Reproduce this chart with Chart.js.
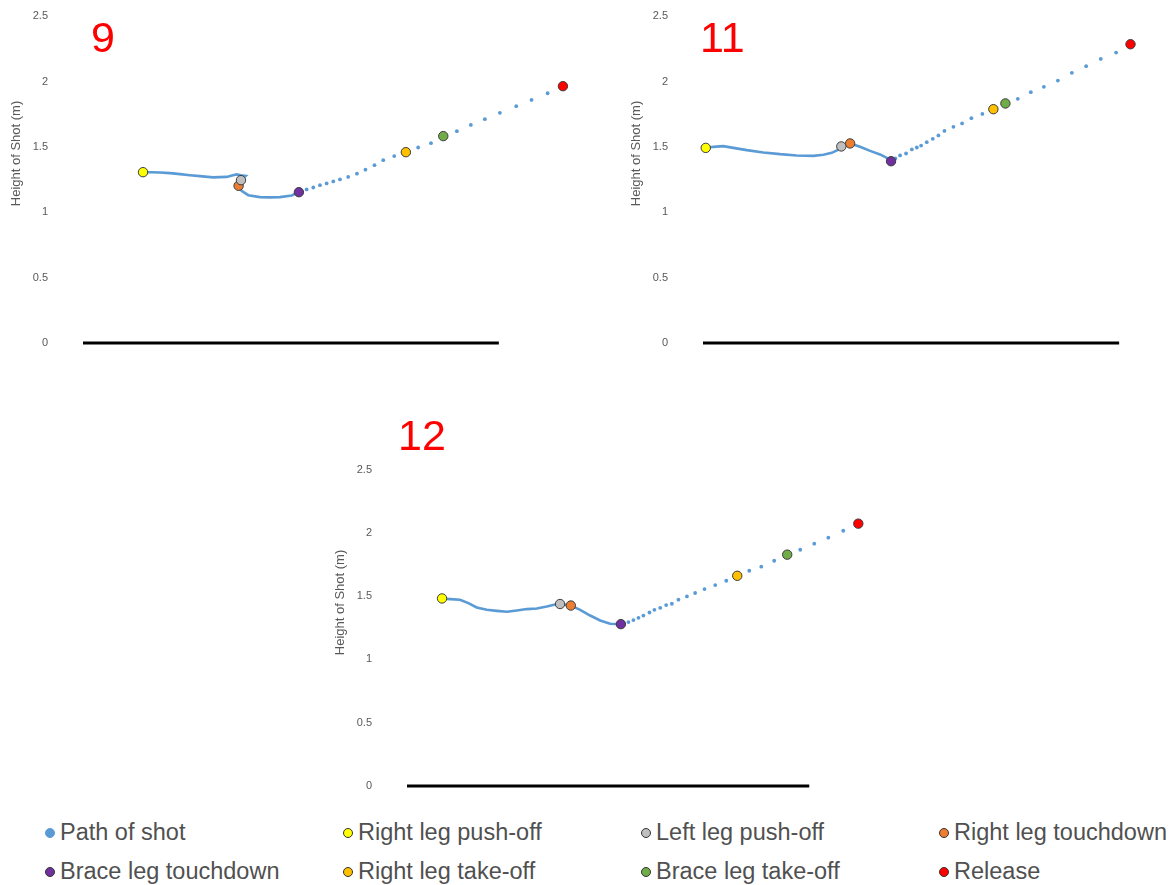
<!DOCTYPE html>
<html>
<head>
<meta charset="utf-8">
<title>Height of shot by trial</title>
<script src="https://cdn.jsdelivr.net/npm/chart.js@4.4.0/dist/chart.umd.min.js"></script>
<style>
  body { margin: 0; background: #fff; font-family: "Liberation Sans", Arial, sans-serif; }
  #page { position: relative; width: 1175px; height: 885px; overflow: hidden; }
  #page canvas { position: absolute; }
  .trial { position: absolute; color: #ff0000; font-size: 43px; line-height: 43px; }
  #legend { position: absolute; left: 45px; top: 813px; display: grid;
            grid-template-columns: repeat(4, 298px); grid-auto-rows: 39px; }
  .item { display: flex; align-items: center; font-size: 23.5px; color: #505050; white-space: nowrap; }
  .swatch { width: 8px; height: 8px; border-radius: 50%; border: 1px solid #333; margin-right: 5px; }
</style>
</head>
<body>
<div id="page">
  <canvas id="trial9"></canvas>
  <canvas id="trial11"></canvas>
  <canvas id="trial12"></canvas>
  <div class="trial" style="left:91px; top:16px;">9</div>
  <div class="trial" style="left:700px; top:16px;">11</div>
  <div class="trial" style="left:398px; top:414px;">12</div>
  <div id="legend"></div>
</div>
<script>
// Series names and colours
const pathName = 'Path of shot';
const pathColor = '#5b9bd5';
const eventNames = ['Right leg push-off', 'Left leg push-off', 'Right leg touchdown', 'Brace leg touchdown',
                    'Right leg take-off', 'Brace leg take-off', 'Release'];
const eventColors = ['#ffff00', '#bfbfbf', '#ed7d31', '#7030a0', '#ffc000', '#70ad47', '#ff0000'];

// y axis ticks (m) and the ground line length (m)
const yTicks = [0, 0.5, 1, 1.5, 2, 2.5];
const groundLength = 3.18;

// Trial 9: [distance (m), height (m)]
const path9Line = [
  [0.459, 1.307], [0.512, 1.307], [0.589, 1.305], [0.665, 1.300], [0.742, 1.292], [0.818, 1.284],
  [0.894, 1.277], [0.994, 1.267], [1.047, 1.269], [1.099, 1.271], [1.139, 1.281], [1.175, 1.290],
  [1.208, 1.284], [1.244, 1.279], [1.208, 1.246], [1.190, 1.203], [1.213, 1.164], [1.264, 1.131],
  [1.353, 1.116], [1.430, 1.114], [1.506, 1.116], [1.596, 1.129], [1.651, 1.154]
];
const path9Dots = [
  [1.651, 1.154], [1.710, 1.175], [1.761, 1.190], [1.812, 1.208], [1.863, 1.221], [1.914, 1.236],
  [1.965, 1.252], [2.028, 1.271], [2.095, 1.296], [2.160, 1.326], [2.229, 1.361], [2.296, 1.399],
  [2.380, 1.430], [2.469, 1.460], [2.563, 1.496], [2.661, 1.529], [2.755, 1.583], [2.859, 1.621],
  [2.966, 1.669], [3.073, 1.713], [3.188, 1.761], [3.313, 1.812], [3.430, 1.860], [3.553, 1.911],
  [3.670, 1.965]
];
const events9 = [[0.459, 1.307], [1.208, 1.246], [1.190, 1.203], [1.651, 1.154],
                 [2.469, 1.460], [2.755, 1.583], [3.670, 1.965]];

// Trial 11
const path11Line = [
  [0.021, 1.493], [0.079, 1.501], [0.155, 1.506], [0.232, 1.493], [0.334, 1.476], [0.461, 1.458],
  [0.589, 1.445], [0.716, 1.435], [0.843, 1.432], [0.920, 1.440], [0.984, 1.455], [1.027, 1.476],
  [1.057, 1.504], [1.124, 1.527], [1.200, 1.501], [1.277, 1.470], [1.353, 1.443], [1.404, 1.417],
  [1.437, 1.391]
];
const path11Dots = [
  [1.437, 1.391], [1.470, 1.412], [1.506, 1.435], [1.552, 1.450], [1.596, 1.481], [1.634, 1.496],
  [1.667, 1.511], [1.710, 1.537], [1.756, 1.562], [1.799, 1.588], [1.845, 1.623], [1.914, 1.654],
  [1.980, 1.680], [2.051, 1.720], [2.135, 1.753], [2.219, 1.789], [2.311, 1.833], [2.406, 1.868],
  [2.505, 1.919], [2.605, 1.960], [2.712, 2.008], [2.819, 2.067], [2.928, 2.118], [3.040, 2.174],
  [3.157, 2.222], [3.267, 2.286]
];
const events11 = [[0.021, 1.493], [1.057, 1.504], [1.124, 1.527], [1.437, 1.391],
                  [2.219, 1.789], [2.311, 1.833], [3.267, 2.286]];

// Trial 12
const path12Line = [
  [0.277, 1.482], [0.340, 1.477], [0.419, 1.472], [0.485, 1.445], [0.551, 1.411], [0.631, 1.392],
  [0.710, 1.384], [0.789, 1.377], [0.868, 1.387], [0.947, 1.398], [1.026, 1.403], [1.105, 1.419],
  [1.171, 1.434], [1.210, 1.438], [1.295, 1.426], [1.369, 1.392], [1.448, 1.347], [1.527, 1.308],
  [1.606, 1.282], [1.691, 1.279]
];
const path12Dots = [
  [1.691, 1.279], [1.751, 1.295], [1.790, 1.311], [1.830, 1.329], [1.869, 1.347], [1.917, 1.371],
  [1.956, 1.392], [2.002, 1.408], [2.049, 1.430], [2.094, 1.440], [2.146, 1.472], [2.213, 1.498],
  [2.278, 1.525], [2.352, 1.556], [2.437, 1.588], [2.524, 1.622], [2.611, 1.661], [2.706, 1.701],
  [2.801, 1.733], [2.903, 1.780], [3.006, 1.828], [3.109, 1.867], [3.220, 1.915], [3.331, 1.962],
  [3.449, 2.017], [3.568, 2.073]
];
const events12 = [[0.277, 1.482], [1.210, 1.438], [1.295, 1.426], [1.691, 1.279],
                  [2.611, 1.661], [3.006, 1.828], [3.568, 2.073]];

const Y_MAX = 2.9;      // top of the plot area sits above the page edge
const AXIS_STRIP = 83;  // width reserved for the y axis inside each canvas
const PAD = { left: 5, top: 10, right: 7, bottom: 17 };

const toPoint = p => ({ x: p[0], y: p[1] });

function drawTrial(id, box, line, dots, events) {
  const canvas = document.getElementById(id);
  const plotH = Y_MAX * box.scale;
  canvas.width = Math.round(AXIS_STRIP + box.xMax * box.scale + PAD.right);
  canvas.height = Math.round(PAD.top + plotH + PAD.bottom);
  canvas.style.left = (box.left - AXIS_STRIP) + 'px';
  canvas.style.top = (box.bottom - plotH - PAD.top) + 'px';

  const datasets = eventNames.map((name, i) => ({
    label: name,
    data: [toPoint(events[i])],
    pointRadius: 4.7,
    pointBackgroundColor: eventColors[i],
    pointBorderColor: '#3b3b3b',
    pointBorderWidth: 1,
    order: 1,
    clip: false
  }));
  datasets.push({
    label: pathName,
    data: line.map(toPoint),
    showLine: true,
    borderColor: pathColor,
    borderWidth: 2.6,
    pointRadius: 0,
    order: 2,
    clip: false
  });
  datasets.push({
    label: pathName,
    data: dots.map(toPoint),
    pointRadius: 1.9,
    pointBackgroundColor: pathColor,
    pointBorderWidth: 0,
    order: 2,
    clip: false
  });
  datasets.push({
    label: 'Ground',
    data: [{ x: 0, y: 0 }, { x: groundLength, y: 0 }],
    showLine: true,
    borderColor: '#000000',
    borderWidth: 3,
    pointRadius: 0,
    order: 3,
    clip: false
  });

  new Chart(canvas, {
    type: 'scatter',
    data: { datasets },
    options: {
      responsive: false,
      animation: false,
      layout: { padding: PAD },
      plugins: { legend: { display: false }, tooltip: { enabled: false } },
      scales: {
        x: { type: 'linear', display: false, min: 0, max: box.xMax },
        y: {
          min: 0,
          max: Y_MAX,
          afterBuildTicks: scale => { scale.ticks = yTicks.map(v => ({ value: v })); },
          afterFit: scale => { scale.width = AXIS_STRIP - PAD.left; },
          // tick marks are hidden, their length only spaces the labels from the plot
          grid: { display: false, drawTicks: true, tickLength: 32 },
          border: { display: false },
          ticks: {
            padding: 3,
            color: '#595959',
            font: { family: 'Liberation Sans', size: 11 },
            callback: v => String(v)
          },
          title: {
            display: true,
            text: 'Height of Shot (m)',
            color: '#595959',
            padding: { top: 4, bottom: 0 },
            font: { family: 'Liberation Sans', size: 13 }
          }
        }
      }
    }
  });
}

drawTrial('trial9',  { left: 83,  bottom: 343, scale: 130.8, xMax: 3.9 }, path9Line,  path9Dots,  events9);
drawTrial('trial11', { left: 703, bottom: 343, scale: 130.8, xMax: 3.5 }, path11Line, path11Dots, events11);
drawTrial('trial12', { left: 407, bottom: 786, scale: 126.4, xMax: 3.7 }, path12Line, path12Dots, events12);

// Shared legend under the three charts
const legend = document.getElementById('legend');
[pathName, ...eventNames].forEach((name, i) => {
  const item = document.createElement('div');
  item.className = 'item';
  const swatch = document.createElement('span');
  swatch.className = 'swatch';
  if (i === 0) {
    swatch.style.background = pathColor;
    swatch.style.borderColor = pathColor;
  } else {
    swatch.style.background = eventColors[i - 1];
  }
  item.appendChild(swatch);
  item.appendChild(document.createTextNode(name));
  legend.appendChild(item);
});
</script>
</body>
</html>
